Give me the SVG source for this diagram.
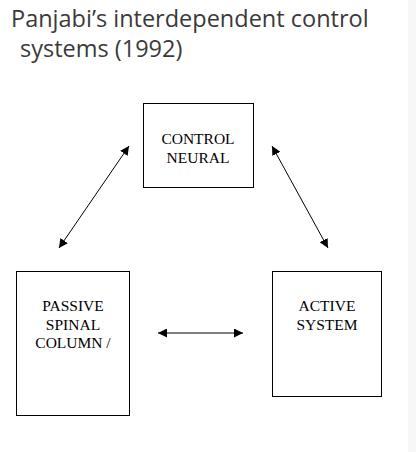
<svg xmlns="http://www.w3.org/2000/svg" width="416" height="452" viewBox="0 0 416 452">
<style>
.title{font-family:"Open Sans","Noto Sans","DejaVu Sans",sans-serif;font-size:23.5px;fill:#3a3a3a}
.box{fill:#ffffff;stroke:#000000;stroke-width:1}
.lbl{font-family:"Liberation Serif","Times New Roman",serif;font-size:15.5px;fill:#000000;text-anchor:middle}
.con{stroke:#000000;stroke-width:1;fill:none;marker-start:url(#ah);marker-end:url(#ah)}
</style>
<defs>
<marker id="ah" viewBox="0 0 10 10" refX="10" refY="5" markerWidth="9" markerHeight="9" markerUnits="userSpaceOnUse" orient="auto-start-reverse">
<path d="M0,0 L10,5 L0,10 z" fill="#000000"/>
</marker>
</defs>
<rect x="0" y="0" width="416" height="452" fill="#ffffff"/>
<rect x="408" y="0" width="8" height="452" fill="#f7f7f7"/>
<g id="title">
<text class="title" x="11" y="27">Panjabi’s interdependent control</text>
<text class="title" x="20" y="57">systems (1992)</text>
</g>
<g id="node-control">
<rect class="box" x="143.5" y="103.5" width="110" height="84"/>
<text class="lbl" x="198" y="144">CONTROL</text>
<text class="lbl" x="198" y="163">NEURAL</text>
</g>
<g id="node-passive">
<rect class="box" x="16.5" y="271.5" width="113" height="144"/>
<text class="lbl" x="73" y="311">PASSIVE</text>
<text class="lbl" x="73" y="330">SPINAL</text>
<text class="lbl" x="73" y="348">COLUMN /</text>
</g>
<g id="node-active">
<rect class="box" x="272.5" y="271.5" width="109" height="125"/>
<text class="lbl" x="327" y="311">ACTIVE</text>
<text class="lbl" x="327" y="330">SYSTEM</text>
</g>
<g id="connectors">
<line class="con" x1="59" y1="248" x2="129" y2="146"/>
<line class="con" x1="328" y1="248" x2="272" y2="146"/>
<line class="con" x1="158" y1="333" x2="243" y2="333"/>
</g>
</svg>
